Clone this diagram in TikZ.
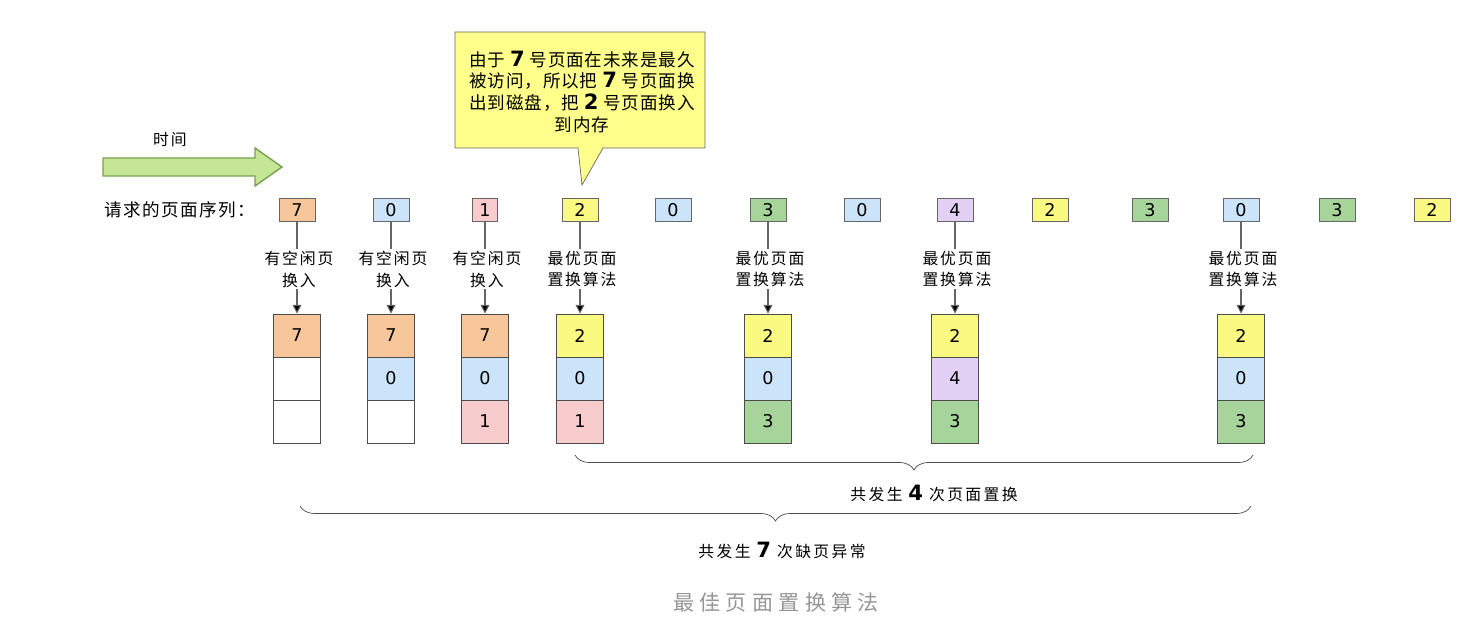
\documentclass[tikz,border=0pt]{standalone}
\usepackage{fontspec}
\setmainfont{Noto Sans CJK SC}
\newfontfamily\digitfont{DejaVu Sans}
\usetikzlibrary{arrows.meta,decorations.pathreplacing}
\definecolor{pgorange}{RGB}{247,199,155}
\definecolor{pgblue}{RGB}{204,228,250}
\definecolor{pgpink}{RGB}{248,204,204}
\definecolor{pgyellow}{RGB}{250,250,130}
\definecolor{pggreen}{RGB}{166,212,154}
\definecolor{pgpurple}{RGB}{226,208,245}
\definecolor{notefill}{RGB}{255,255,140}
\definecolor{timefill}{RGB}{198,230,150}
\definecolor{timeline}{RGB}{120,160,80}
\definecolor{captiongray}{RGB}{150,150,150}
\newcommand{\bignum}[1]{{\digitfont\bfseries\fontsize{12}{12}\selectfont #1}}

\begin{document}
\begin{tikzpicture}[x=0.02cm, y=-0.02cm,
  page/.style={draw=black!60, minimum width=0.72cm, minimum height=0.46cm, inner sep=0pt, font=\digitfont\fontsize{10}{12}\selectfont},
  cell/.style={draw=black!70, minimum width=0.94cm, minimum height=0.86cm, inner sep=0pt, font=\digitfont\fontsize{10}{12}\selectfont},
  algo/.style={align=center, font=\fontsize{9}{12.5}\selectfont\addfontfeatures{LetterSpace=12}, inner sep=1pt},
  link/.style={draw=black!60, semithick},
  bracelabel/.style={font=\fontsize{9}{12}\selectfont\addfontfeatures{LetterSpace=15}}]
  \useasboundingbox (0,0) rectangle (1483,624);

  % Time arrow
  \draw[fill=timefill, draw=timeline, thick] (103,158) -- (255,158) -- (255,148) -- (282,167)
    -- (255,186) -- (255,176) -- (103,176) -- cycle;
  \node[font=\fontsize{9}{12}\selectfont\addfontfeatures{LetterSpace=12}] (time) at (170,140) {时间};

  % Request sequence
  \node[font=\fontsize{10}{12}\selectfont\addfontfeatures{LetterSpace=8}] (seqlabel) at (180,210) {请求的页面序列：};
  \foreach \i/\x/\v/\c/\w in {1/297/7/pgorange/0.72, 2/391/0/pgblue/0.72, 3/485/1/pgpink/0.5,
      4/580/2/pgyellow/0.72, 5/673/0/pgblue/0.72, 6/768/3/pggreen/0.72, 7/862/0/pgblue/0.72,
      8/955/4/pgpurple/0.72, 9/1050/2/pgyellow/0.72, 10/1150/3/pggreen/0.72, 11/1241/0/pgblue/0.72,
      12/1337/3/pggreen/0.72, 13/1432/2/pgyellow/0.72}
    \node[page, fill=\c, minimum width=\w cm] (s\i) at (\x,210) {\v};

  % Frames after each page fault
  \foreach \k/\i/\x/\lab/\ca/\va/\cb/\vb/\cc/\vc in {
      1/1/297/{有空闲页\\换入}/pgorange/7/white/{}/white/{},
      2/2/391/{有空闲页\\换入}/pgorange/7/pgblue/0/white/{},
      3/3/485/{有空闲页\\换入}/pgorange/7/pgblue/0/pgpink/1,
      4/4/580/{最优页面\\置换算法}/pgyellow/2/pgblue/0/pgpink/1,
      5/6/768/{最优页面\\置换算法}/pgyellow/2/pgblue/0/pggreen/3,
      6/8/955/{最优页面\\置换算法}/pgyellow/2/pgpurple/4/pggreen/3,
      7/11/1241/{最优页面\\置换算法}/pgyellow/2/pgblue/0/pggreen/3} {
    \node[algo] (l\k) at (\x+2,269) {\lab};
    \node[cell, fill=\ca] (c\k-1) at (\x,335.5) {\va};
    \node[cell, fill=\cb] (c\k-2) at (\x,378.5) {\vb};
    \node[cell, fill=\cc] (c\k-3) at (\x,421.5) {\vc};
    \draw[link] (s\i) -- (s\i |- l\k.north);
    \draw[link, -{Triangle[length=5pt, width=5pt, fill=black]}] (s\i |- l\k.south) -- (c\k-1);
  }

  % Callout
  \draw[black!60, fill=notefill] (455,32) -- (705,32) -- (705,148) -- (603,148) -- (582,185)
    -- (578,148) -- (455,148) -- cycle;
  \node[align=center, font=\fontsize{10}{12.5}\selectfont\addfontfeatures{LetterSpace=5}] (note) at (582,92)
    {由于 \bignum{7} 号页面在未来是最久\\被访问，所以把 \bignum{7} 号页面换\\出到磁盘，把 \bignum{2} 号页面换入\\到内存};

  % Braces
  \draw[black!70, decorate, decoration={brace, mirror, amplitude=0.3cm}] (575,455) -- (1253,455);
  \node[bracelabel] (n4) at (934,493) {共发生 \bignum{4} 次页面置换};
  \draw[black!70, decorate, decoration={brace, mirror, amplitude=0.3cm}] (300,506) -- (1251,506);
  \node[bracelabel] (n7) at (782,550) {共发生 \bignum{7} 次缺页异常};

  % Caption
  \node[text=captiongray, font=\fontsize{12}{14}\selectfont\addfontfeatures{LetterSpace=25}] (caption) at (776,602) {最佳页面置换算法};
\end{tikzpicture}
\end{document}
